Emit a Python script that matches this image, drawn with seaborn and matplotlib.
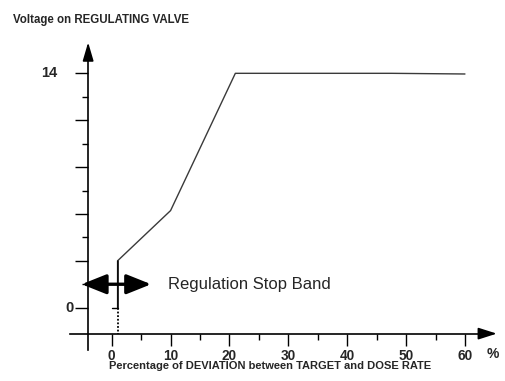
import matplotlib
matplotlib.use("Agg")
import matplotlib.pyplot as plt
import numpy as np
import pandas as pd
import seaborn as sns

# ---- data ----
deviation_pct = [1, 1, 10, 21, 47.5, 60]
voltage = [0, 2.8, 5.8, 14, 14, 13.96]
x_major_ticks = [0, 10, 20, 30, 40, 50, 60]
x_minor_ticks = [5, 15, 25, 35, 45, 55]
y_major_ticks = [0, 2.8, 5.6, 8.4, 11.2, 14]
y_minor_ticks = [1.4, 4.2, 7.0, 9.8, 12.6]
stop_band = (-5.1, 6.7)

sns.set_style("white")
plt.rcParams["font.family"] = ["Liberation Sans", "DejaVu Sans"]

fig = plt.figure(figsize=(5.05, 3.81), dpi=100)
ax = fig.add_axes([0, 0, 1, 1])

# pixel mapping
ax.set_xlim(-18.97, 66.8)
ax.set_ylim(-4.38, 18.38)

df = pd.DataFrame({"x": deviation_pct, "y": voltage})
sns.lineplot(data=df, x="x", y="y", sort=False, estimator=None,
             color="#3a3a3a", linewidth=1.0, ax=ax)
ax.plot([1, 1], [0, 2.8], color="black", linewidth=1.1)

# spines as axes
for s in ["top", "right"]:
    ax.spines[s].set_visible(False)
ax.spines["left"].set_position(("data", -4))
ax.spines["bottom"].set_position(("data", -1.55))
ax.spines["left"].set_bounds(-2.53, 15.0)
ax.spines["bottom"].set_bounds(-7.1, 64.0)
for s in ["left", "bottom"]:
    ax.spines[s].set_color("black")
    ax.spines[s].set_linewidth(1.2)

ax.set_xticks(x_major_ticks)
ax.set_xticks(x_minor_ticks, minor=True)
ax.set_xticklabels([str(t) for t in x_major_ticks], fontsize=9.8,
                   fontweight="bold")
ax.set_yticks(y_major_ticks)
ax.set_yticks(y_minor_ticks, minor=True)
ax.set_yticklabels([])
ax.tick_params(axis="x", which="major", direction="out", length=8.6,
               width=1.0, pad=2.3, color="black", bottom=True)
ax.tick_params(axis="x", which="minor", direction="out", length=4.3,
               width=1.0, color="black", bottom=True)
ax.tick_params(axis="y", which="major", direction="out", length=9.4,
               width=1.0, color="black", left=True)
ax.tick_params(axis="y", which="minor", direction="out", length=4.3,
               width=1.0, color="black", left=True)
ax.yaxis.get_major_ticks()[2].tick1line.set_linestyle((0, (1, 1)))
ax.set_xlabel("")
ax.set_ylabel("")

# y tick labels
ax.text(-9.3, 14, "14", ha="right", va="center", fontsize=10.5,
        fontweight="bold")
ax.text(-6.5, 0, "0", ha="right", va="center", fontsize=10.5,
        fontweight="bold")

# zero marker and dotted drop at x=1
ax.plot([0, 1], [0, 0], color="black", linewidth=1.0)
ax.plot([1, 1], [0, -1.55], color="black", linewidth=1.3,
        linestyle=(0, (1, 1)))

# axis arrows
ax.annotate("", xy=(-4, 15.85), xytext=(-4, 14.9),
            arrowprops=dict(arrowstyle="-|>,head_length=0.75,head_width=0.22",
                            mutation_scale=15, color="black", lw=1.2,
                            shrinkA=0, shrinkB=0))
ax.annotate("", xy=(65.4, -1.55), xytext=(63.5, -1.55),
            arrowprops=dict(arrowstyle="-|>,head_length=0.75,head_width=0.24",
                            mutation_scale=15, color="black", lw=1.2,
                            shrinkA=0, shrinkB=0))

# regulation stop band
ax.annotate("", xy=(stop_band[0], 1.4), xytext=(stop_band[1], 1.4),
            arrowprops=dict(arrowstyle="<|-|>,head_length=0.75,head_width=0.3",
                            mutation_scale=20, color="black", lw=2.4,
                            shrinkA=0, shrinkB=0))
ax.text(9.5, 1.4, "Regulation Stop Band", ha="left", va="center",
        fontsize=12)

# labels
ax.text(-16.8, 17.2, "Voltage on REGULATING VALVE", ha="left", va="center",
        fontsize=8.3, fontweight="bold")
ax.text(63.6, -2.78, "%", ha="left", va="center", fontsize=10,
        fontweight="bold")
ax.text(26.9, -3.5, "Percentage of DEVIATION between TARGET and DOSE RATE",
        ha="center", va="center", fontsize=8.0, fontweight="bold")

fig.savefig("out.png", dpi=100)
